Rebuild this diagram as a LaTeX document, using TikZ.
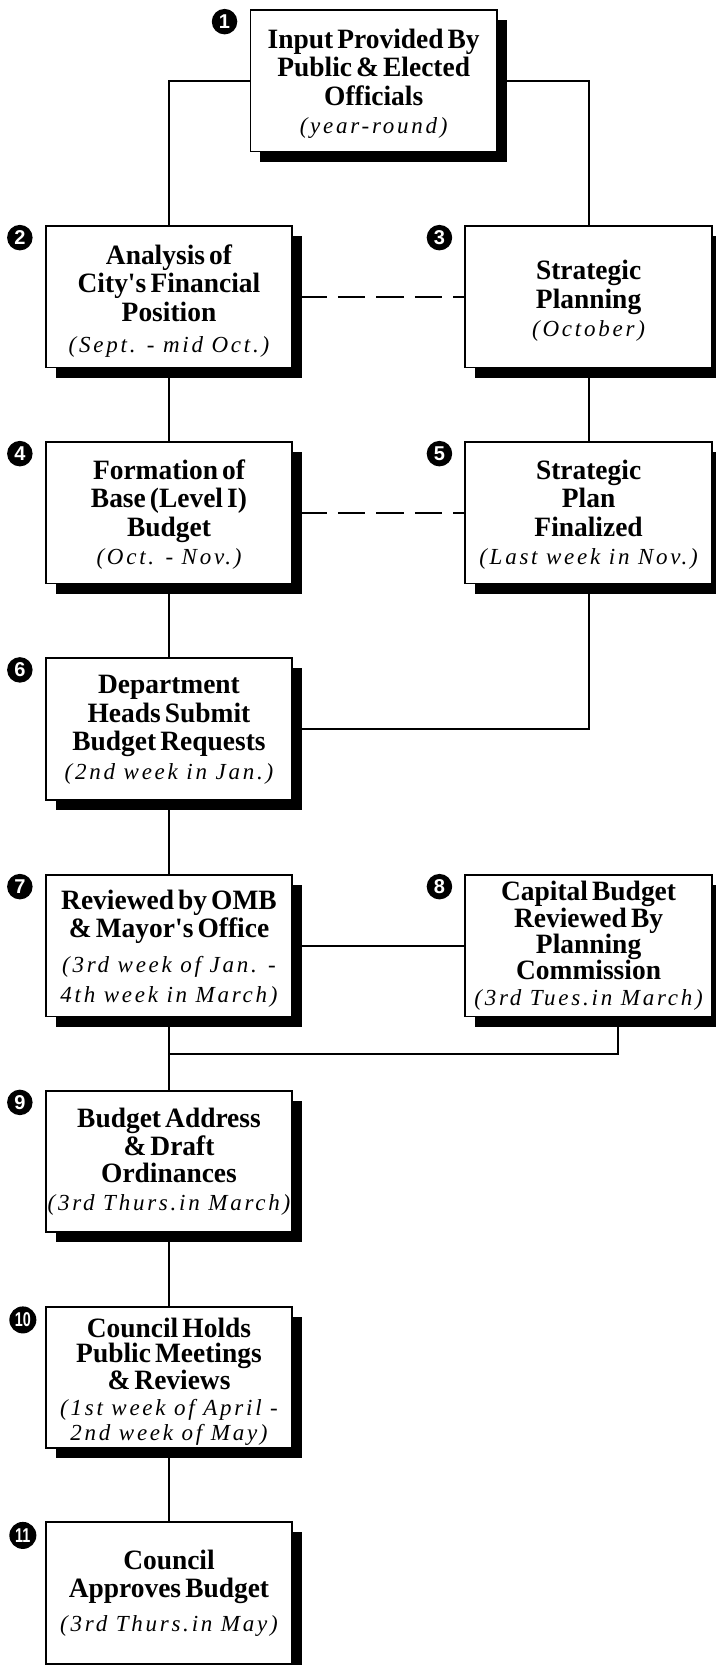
\documentclass[tikz,border=0pt]{standalone}
\usepackage{fontspec}
\usepackage{graphicx}
\setmainfont{Liberation Serif}
\newfontfamily\bxfont[FakeStretch=0.98,WordSpace=0.6]{Liberation Serif}
\newfontfamily\itfont[LetterSpace=12]{Liberation Serif}
\newfontfamily\numfont{Liberation Sans}
\usetikzlibrary{shadows,backgrounds}
\tikzset{
  stepbox/.style={draw=black, line width=1.7pt, fill=white,
    minimum width=246.6pt, minimum height=141.5pt, inner sep=0pt,
    drop shadow={shadow xshift=10pt, shadow yshift=-10pt, fill=black, opacity=1}},
  boxtext/.style={inner sep=0pt, align=center,
    font=\bxfont\bfseries\fontsize{28}{28.5}\selectfont},
  tighttext/.style={boxtext, font=\bxfont\bfseries\fontsize{28}{25.5}\selectfont},
  midtext/.style={boxtext, font=\bxfont\bfseries\fontsize{28}{27.5}\selectfont},
  numc/.style={circle, fill=black, text=white, minimum size=25.5pt, inner sep=0pt,
    font=\numfont\bfseries\fontsize{20}{20}\selectfont},
  numcc/.style={numc, minimum size=27pt},
  conn/.style={line width=1.8pt},
  dconn/.style={conn, dash pattern=on 27.5pt off 11pt, dash phase=32.3pt}
}
\newcommand{\dt}[1]{{\itfont\mdseries\itshape\fontsize{23}{28}\selectfont #1}}
\newcommand{\tq}{\textquotesingle}
\begin{document}
\begin{tikzpicture}[x=1pt,y=-1pt]
\useasboundingbox (0,0) rectangle (715,1665);
% boxes
\node[stepbox] (b1) at (373.7,80.75) {};
\node[stepbox] (b2) at (169,296.75) {};
\node[stepbox] (b3) at (588.6,296.75) {};
\node[stepbox] (b4) at (169,512.75) {};
\node[stepbox] (b5) at (588.6,512.75) {};
\node[stepbox] (b6) at (169,729) {};
\node[stepbox] (b7) at (169,945.75) {};
\node[stepbox] (b8) at (588.6,945.75) {};
\node[stepbox] (b9) at (169,1161.5) {};
\node[stepbox] (b10) at (169,1377.5) {};
\node[stepbox] (b11) at (169,1593) {};
% texts
\node[boxtext] (t1) at ([yshift=-3pt]b1.center) {Input Provided By\\Public \& Elected\\Officials\\\dt{(year-round)}};
\node[boxtext] (t2) at ([yshift=-4.5pt]b2.center) {Analysis of\\City\tq s Financial\\Position\\[3pt]\dt{(Sept. - mid Oct.)}};
\node[boxtext] (t3) at ([yshift=-4pt]b3.center) {Strategic\\Planning\\\dt{(October)}};
\node[boxtext] (t4) at ([yshift=-2pt]b4.center) {Formation of\\Base (Level I)\\Budget\\\dt{(Oct. - Nov.)}};
\node[boxtext] (t5) at ([yshift=-2pt]b5.center) {Strategic\\Plan\\Finalized\\\dt{(Last week in Nov.)}};
\node[boxtext] (t6) at ([yshift=-1pt]b6.center) {Department\\Heads Submit\\Budget Requests\\\dt{(2nd week in Jan.)}};
\node[midtext] (t7) at ([yshift=-3pt]b7.center) {Reviewed by OMB\\\& Mayor\tq s Office\\[8pt]\dt{(3rd week of Jan. -}\\[2pt]\dt{4th week in March)}};
\node[tighttext] (t8) at (b8.center) {Capital Budget\\Reviewed By\\Planning\\Commission\\\dt{(3rd Tues.in March)}};
\node[midtext] (t9) at (b9.center) {Budget Address\\\& Draft\\Ordinances\\\dt{(3rd Thurs.in March)}};
\node[tighttext] (t10) at ([yshift=-4pt]b10.center) {Council Holds\\Public Meetings\\\& Reviews\\\dt{(1st week of April -}\\[-0.5pt]\dt{2nd week of May)}};
\node[boxtext] (t11) at (b11.center) {Council\\Approves Budget\\[5pt]\dt{(3rd Thurs.in May)}};
% numbers
\node[numc] (n1) at ([xshift=-25pt,yshift=-12.5pt]b1.north west) {1};
\node[numc] (n2) at ([xshift=-25pt,yshift=-12.5pt]b2.north west) {2};
\node[numc] (n3) at ([xshift=-25pt,yshift=-12.5pt]b3.north west) {3};
\node[numc] (n4) at ([xshift=-25pt,yshift=-12.5pt]b4.north west) {4};
\node[numc] (n5) at ([xshift=-25pt,yshift=-12.5pt]b5.north west) {5};
\node[numc] (n6) at ([xshift=-25pt,yshift=-12.5pt]b6.north west) {6};
\node[numc] (n7) at ([xshift=-25pt,yshift=-12.5pt]b7.north west) {7};
\node[numc] (n8) at ([xshift=-25pt,yshift=-12.5pt]b8.north west) {8};
\node[numc] (n9) at ([xshift=-25pt,yshift=-12.5pt]b9.north west) {9};
\node[numcc] (n10) at ([xshift=-22pt,yshift=-14pt]b10.north west) {\scalebox{0.72}[1]{10}};
\node[numcc] (n11) at ([xshift=-22pt,yshift=-14pt]b11.north west) {\scalebox{0.72}[1]{11}};
\coordinate (m) at (169,1054.3);
\begin{pgfonlayer}{background}
\fill[white] (0,0) rectangle (715,1665);
\draw[conn] (b1.west) -| (b2.north);
\draw[conn] (b1.east) -| (b3.north);
\draw[dconn] (b2.east) -- (b3.west);
\draw[conn] (b2.south) -- (b4.north);
\draw[conn] (b3.south) -- (b5.north);
\draw[dconn] (b4.east) -- (b5.west);
\draw[conn] (b4.south) -- (b6.north);
\draw[conn] (b5.south) |- (b6.east);
\draw[conn] (b6.south) -- (b7.north);
\draw[conn] (b7.east) -- (b8.west);
\draw[conn] (b7.south) -- (b9.north);
\draw[conn] ([xshift=29.3pt]b8.south) |- (m);
\draw[conn] (b9.south) -- (b10.north);
\draw[conn] (b10.south) -- (b11.north);
\end{pgfonlayer}
\end{tikzpicture}
\end{document}
